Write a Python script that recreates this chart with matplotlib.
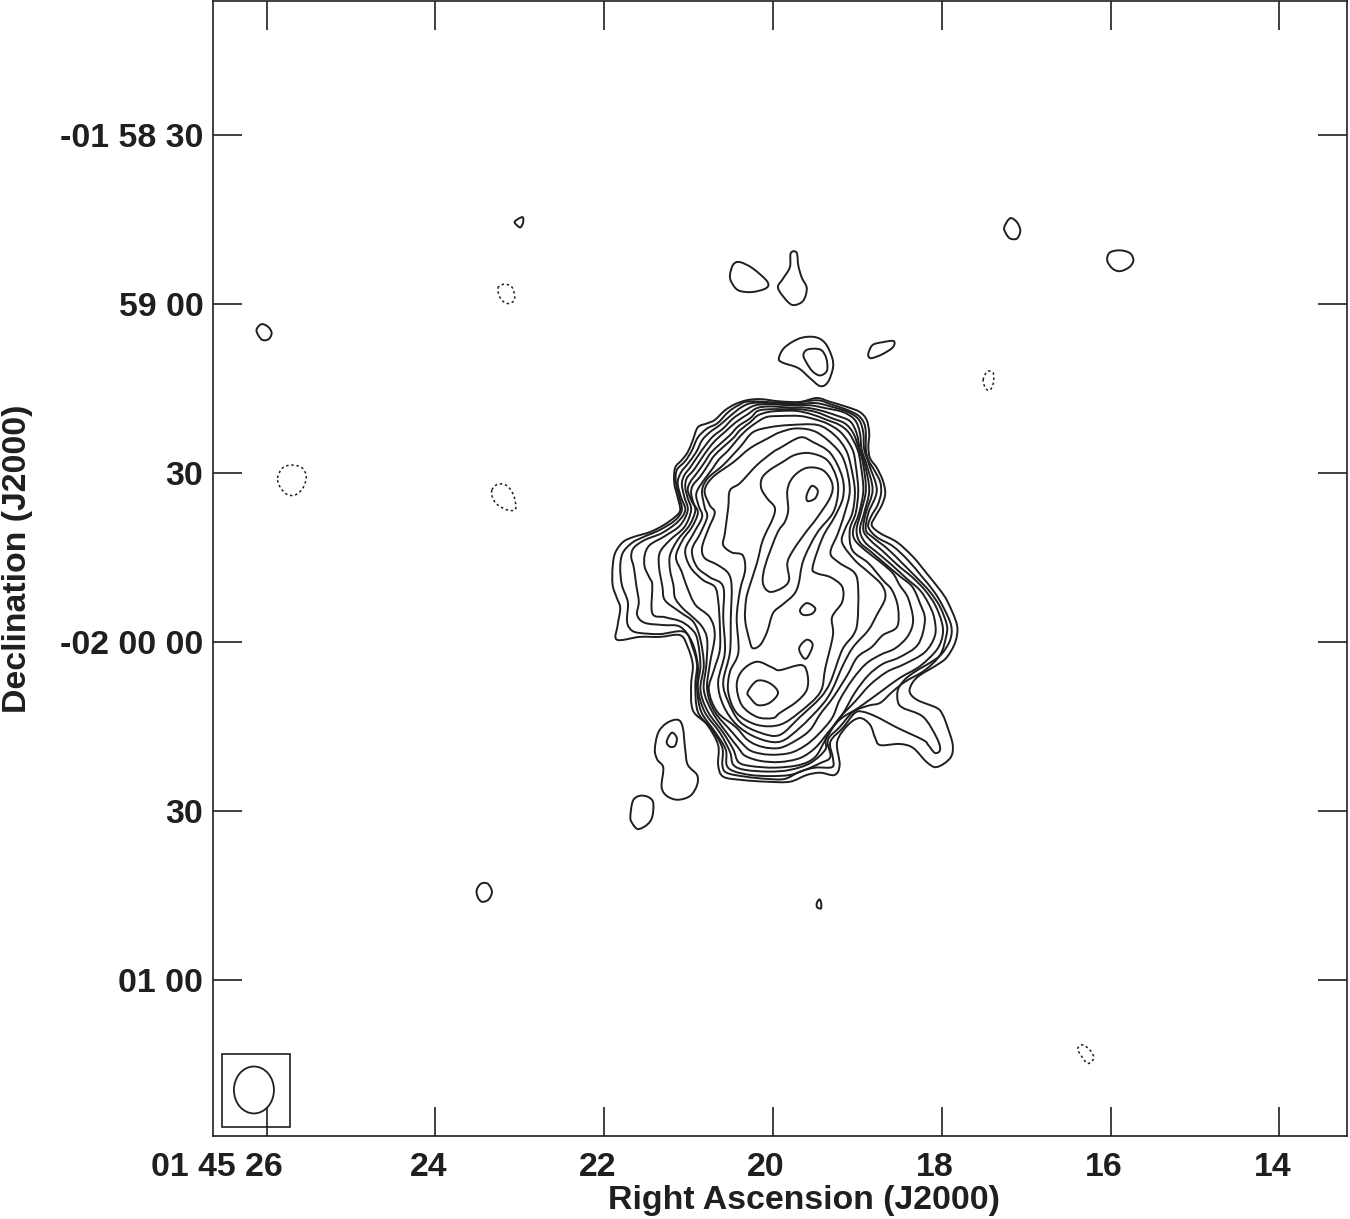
import matplotlib
matplotlib.use('Agg')
import matplotlib.pyplot as plt
import matplotlib.transforms as mtrans
import numpy as np
from matplotlib.patches import Ellipse, PathPatch, Rectangle
from matplotlib.path import Path

# contour vertices: (RA seconds after 01 45, Dec arcsec north of -02 00 00)
level_01 = [(21.85,0.4),(21.84,3.0),(21.81,6.0),(21.85,7.8),(21.90,10.1),(21.90,13.3),(21.87,15.8),(21.78,17.7),(21.66,18.6),(21.46,19.5),(21.30,20.7),(21.16,22.2),(21.10,23.4),(21.13,25.7),(21.17,28.2),(21.16,30.9),(21.08,32.3),(21.01,33.7),(20.95,35.8),(20.89,38.1),(20.78,38.8),(20.69,39.4),(20.57,41.1),(20.45,42.2),(20.31,42.9),(20.15,43.1),(19.92,42.7),(19.68,42.6),(19.48,43.3),(19.32,42.6),(19.12,41.7),(18.97,40.8),(18.89,39.4),(18.86,37.1),(18.87,34.6),(18.85,32.6),(18.77,30.9),(18.70,28.7),(18.67,26.4),(18.71,24.3),(18.79,22.2),(18.83,20.7),(18.73,19.3),(18.53,17.7),(18.34,15.1),(18.18,12.2),(18.02,9.2),(17.93,7.1),(17.82,3.0),(17.84,0.0),(17.94,-2.7),(18.06,-4.1),(18.26,-5.9),(18.35,-7.3),(18.38,-8.9),(18.29,-10.3),(18.06,-11.7),(17.99,-12.9),(17.93,-15.2),(17.87,-18.3),(17.90,-20.6),(18.06,-22.2),(18.18,-21.3),(18.34,-18.8),(18.50,-18.1),(18.73,-18.3),(18.79,-17.0),(18.85,-14.7),(18.97,-13.5),(19.11,-14.7),(19.24,-17.7),(19.21,-21.8),(19.27,-23.6),(19.44,-23.2),(19.60,-23.6),(19.80,-24.8),(20.07,-24.8),(20.36,-24.5),(20.59,-23.9),(20.65,-21.8),(20.65,-18.3),(20.78,-14.7),(20.95,-12.1),(20.97,-7.6),(20.95,-4.1),(21.01,-0.9),(21.10,1.2),(21.34,0.9),(21.58,0.9)]
level_02 = [(21.67,2.0),(21.72,3.0),(21.73,4.3),(21.72,7.1),(21.79,10.1),(21.81,13.3),(21.78,15.8),(21.67,17.6),(21.54,18.6),(21.34,19.9),(21.16,21.6),(21.08,23.4),(21.11,25.7),(21.15,28.2),(21.14,30.5),(21.04,32.1),(20.96,34.0),(20.89,36.3),(20.78,37.9),(20.66,38.8),(20.53,40.8),(20.41,42.0),(20.27,42.7),(19.80,42.4),(19.48,42.9),(19.32,42.2),(19.14,41.3),(18.99,40.2),(18.92,38.8),(18.90,37.1),(18.90,34.2),(18.87,32.3),(18.80,30.5),(18.73,28.4),(18.72,26.4),(18.76,24.3),(18.84,22.2),(18.87,20.4),(18.77,18.6),(18.58,17.0),(18.40,14.5),(18.23,11.5),(18.09,8.9),(17.99,6.4),(17.89,3.0),(17.90,0.4),(18.00,-2.1),(18.12,-3.5),(18.32,-5.3),(18.44,-6.7),(18.52,-8.5),(18.52,-10.6),(18.46,-11.7),(18.22,-13.3),(18.06,-17.0),(18.02,-19.1),(18.08,-19.7),(18.16,-18.3),(18.22,-17.4),(18.53,-15.2),(18.77,-13.3),(18.93,-12.4),(19.03,-12.6),(19.17,-15.2),(19.32,-17.7),(19.29,-20.6),(19.30,-22.2),(19.50,-22.3),(19.68,-23.0),(19.86,-24.3),(20.07,-24.3),(20.33,-23.9),(20.55,-23.2),(20.60,-21.8),(20.60,-18.8),(20.72,-15.6),(20.89,-12.4),(20.92,-7.6),(20.90,-4.1),(20.95,-1.1),(21.05,1.8),(21.34,1.4),(21.58,1.6)]
level_03 = [(21.65,13.3),(21.62,10.1),(21.59,7.1),(21.61,4.8),(21.52,3.4),(21.30,3.0),(21.10,2.7),(20.96,0.0),(20.89,-4.1),(20.90,-8.2),(20.85,-12.4),(20.68,-16.1),(20.56,-19.1),(20.55,-21.8),(20.47,-22.9),(20.27,-23.6),(20.04,-23.8),(19.80,-23.6),(19.62,-22.7),(19.44,-21.5),(19.32,-20.4),(19.35,-17.4),(19.21,-15.1),(19.05,-12.4),(18.87,-11.3),(18.73,-10.8),(18.59,-8.9),(18.44,-7.1),(18.20,-5.0),(18.02,-2.3),(17.95,0.9),(17.94,3.0),(18.02,6.2),(18.14,8.9),(18.29,11.3),(18.47,14.0),(18.64,16.5),(18.82,18.6),(18.90,19.9),(18.87,22.9),(18.77,26.9),(18.86,31.4),(18.92,34.2),(18.93,37.1),(18.98,39.4),(19.11,40.8),(19.32,41.8),(19.50,42.4),(19.74,42.2),(20.04,42.4),(20.25,42.4),(20.37,41.7),(20.50,40.2),(20.63,38.5),(20.75,37.2),(20.84,35.8),(20.91,33.7),(21.01,31.6),(21.09,30.1),(21.13,28.2),(21.09,25.7),(21.04,23.4),(21.13,21.3),(21.32,19.3),(21.52,18.1),(21.65,16.7),(21.68,15.1)]
level_04 = [(21.52,13.3),(21.46,11.3),(21.43,10.1),(21.43,5.1),(21.28,4.4),(21.10,3.7),(20.98,2.5),(20.90,0.7),(20.86,-4.1),(20.89,-8.2),(20.81,-12.4),(20.63,-16.1),(20.51,-19.5),(20.47,-21.8),(20.33,-22.7),(20.04,-23.0),(19.80,-22.7),(19.56,-21.5),(19.38,-19.1),(19.37,-17.0),(19.21,-13.8),(18.99,-11.7),(18.73,-8.9),(18.50,-6.4),(18.26,-4.3),(18.06,-1.4),(17.99,1.2),(18.00,3.5),(18.08,6.6),(18.20,9.2),(18.35,11.5),(18.52,13.6),(18.69,16.0),(18.85,18.1),(18.93,19.9),(18.90,22.9),(18.82,27.0),(18.89,31.4),(18.95,34.2),(18.97,37.1),(19.03,39.4),(19.17,40.8),(19.38,41.5),(19.56,42.0),(19.80,42.0),(20.04,42.2),(20.21,42.0),(20.33,41.1),(20.47,39.7),(20.59,37.9),(20.71,36.5),(20.80,34.9),(20.89,33.0),(20.98,31.0),(21.05,29.6),(21.08,28.0),(21.05,25.7),(21.01,23.4),(21.10,20.7),(21.28,18.8),(21.46,17.2),(21.52,15.4)]
level_05 = [(21.35,13.3),(21.31,9.8),(21.28,7.4),(21.10,5.3),(20.94,3.5),(20.86,0.4),(20.82,-4.1),(20.86,-8.5),(20.77,-12.4),(20.59,-16.1),(20.47,-19.1),(20.41,-21.3),(20.27,-22.0),(19.98,-22.3),(19.68,-21.8),(19.50,-20.4),(19.38,-17.4),(19.23,-13.8),(19.03,-10.6),(18.85,-7.6),(18.65,-5.3),(18.44,-3.9),(18.20,-1.8),(18.08,1.2),(18.09,4.3),(18.16,6.9),(18.26,9.2),(18.42,11.3),(18.58,13.5),(18.76,15.8),(18.91,17.7),(18.97,19.9),(18.92,22.9),(18.86,26.9),(18.91,31.4),(18.97,34.2),(19.01,37.1),(19.09,39.2),(19.25,40.2),(19.44,41.1),(19.62,41.6),(19.80,41.6),(20.04,41.8),(20.19,41.5),(20.30,40.4),(20.44,39.0),(20.56,37.4),(20.68,35.8),(20.77,34.2),(20.85,32.5),(20.94,30.5),(21.02,29.1),(21.04,27.5),(21.01,25.5),(20.97,23.4),(21.05,20.4),(21.22,18.1),(21.34,15.9)]
level_06 = [(21.22,12.8),(21.18,10.1),(21.16,7.8),(21.07,6.0),(20.95,4.4),(20.84,2.7),(20.78,0.4),(20.79,-4.1),(20.82,-8.5),(20.72,-12.4),(20.55,-16.1),(20.41,-18.8),(20.33,-20.2),(20.15,-21.1),(19.92,-21.3),(19.68,-20.6),(19.50,-18.8),(19.35,-16.1),(19.18,-12.9),(19.03,-9.0),(18.87,-5.9),(18.70,-3.9),(18.50,-2.7),(18.28,-0.4),(18.20,3.9),(18.26,6.9),(18.35,9.8),(18.50,11.7),(18.65,13.6),(18.83,15.9),(18.97,17.7),(19.01,19.9),(18.96,22.9),(18.90,26.9),(18.93,31.4),(18.98,34.2),(19.05,37.1),(19.15,38.8),(19.30,39.7),(19.49,40.8),(19.68,41.3),(19.86,41.3),(20.04,41.3),(20.18,41.0),(20.27,39.7),(20.41,38.3),(20.51,36.7),(20.63,35.1),(20.74,33.5),(20.81,31.9),(20.90,30.0),(20.98,28.4),(21.01,27.0),(20.97,25.2),(20.92,23.4),(20.99,20.7),(21.13,18.1),(21.22,15.4)]
level_07 = [(21.15,15.1),(21.08,12.4),(21.02,9.8),(20.92,6.6),(20.75,4.4),(20.69,1.2),(20.75,-4.1),(20.78,-8.5),(20.69,-12.4),(20.49,-15.9),(20.36,-18.1),(20.25,-19.4),(20.04,-20.0),(19.80,-19.7),(19.62,-18.4),(19.47,-16.5),(19.30,-13.5),(19.21,-10.3),(19.06,-6.7),(18.90,-3.9),(18.73,-2.3),(18.55,-1.1),(18.40,1.1),(18.34,3.9),(18.40,7.8),(18.50,10.1),(18.58,12.2),(18.73,14.2),(18.91,16.3),(19.03,18.1),(19.05,19.9),(18.98,22.9),(18.93,26.9),(18.96,31.4),(19.00,34.2),(19.10,37.1),(19.21,38.5),(19.36,39.4),(19.54,40.4),(19.72,41.0),(19.92,41.0),(20.06,40.8),(20.18,40.2),(20.27,39.0),(20.39,37.6),(20.47,36.2),(20.59,34.6),(20.70,33.0),(20.77,31.4),(20.86,29.4),(20.95,27.8),(20.97,26.4),(20.94,24.6),(20.89,22.9),(20.96,20.4),(21.07,18.1)]
level_08 = [(21.04,16.3),(20.98,13.3),(20.83,11.0),(20.69,9.8),(20.65,7.4),(20.63,3.0),(20.63,-1.4),(20.70,-5.0),(20.76,-8.5),(20.66,-12.4),(20.44,-15.1),(20.30,-17.4),(20.13,-18.6),(19.92,-18.8),(19.72,-17.4),(19.56,-15.6),(19.44,-12.8),(19.29,-9.9),(19.12,-5.9),(19.00,-2.7),(18.83,-0.9),(18.70,1.2),(18.53,2.7),(18.52,6.2),(18.59,9.2),(18.70,11.0),(18.87,14.0),(19.06,16.3),(19.09,19.9),(19.02,22.9),(18.99,26.9),(19.02,31.4),(19.06,34.2),(19.19,37.1),(19.35,38.7),(19.50,39.5),(19.68,40.1),(19.92,40.1),(20.08,39.9),(20.21,38.8),(20.33,37.4),(20.43,35.8),(20.53,34.0),(20.64,32.4),(20.71,30.9),(20.81,28.9),(20.89,27.1),(20.91,25.9),(20.88,24.1),(20.84,22.2),(20.94,19.3)]
level_09 = [(19.80,38.5),(20.04,38.1),(20.24,37.2),(20.39,34.6),(20.59,31.4),(20.77,29.1),(20.84,26.9),(20.81,23.9),(20.78,22.2),(20.86,19.3),(20.96,16.3),(20.90,13.3),(20.75,11.5),(20.59,9.8),(20.59,4.3),(20.57,-1.8),(20.65,-7.1),(20.59,-11.2),(20.43,-14.7),(20.19,-17.0),(19.92,-17.7),(19.68,-15.2),(19.42,-11.2),(19.30,-8.5),(19.17,-4.1),(19.05,-0.9),(18.87,2.1),(18.77,4.8),(18.67,7.8),(18.71,10.1),(18.87,12.4),(19.03,14.5),(19.18,17.6),(19.15,19.9),(19.06,22.9),(19.03,26.9),(19.08,31.4),(19.14,34.2),(19.27,36.7),(19.47,38.5)]
level_10 = [(19.72,37.9),(19.92,37.2),(20.04,36.3),(20.27,34.4),(20.47,31.9),(20.71,29.3),(20.81,26.9),(20.75,24.3),(20.69,22.9),(20.77,19.9),(20.84,16.8),(20.81,14.9),(20.66,13.7),(20.53,12.2),(20.49,9.8),(20.50,4.3),(20.51,-1.8),(20.59,-7.1),(20.53,-10.6),(20.39,-14.2),(20.15,-16.1),(19.92,-16.5),(19.68,-13.3),(19.44,-9.9),(19.32,-7.1),(19.18,-1.4),(19.05,1.2),(19.00,3.5),(18.99,9.2),(19.03,12.2),(19.21,14.0),(19.32,15.8),(19.23,19.3),(19.15,22.9),(19.09,26.9),(19.14,31.4),(19.24,34.2),(19.48,37.2)]
level_11 = [(19.92,34.4),(19.68,36.3),(19.53,35.5),(19.32,33.5),(19.18,29.3),(19.17,25.7),(19.27,22.2),(19.41,18.6),(19.53,13.3),(19.48,12.2),(19.32,11.5),(19.18,9.8),(19.18,7.1),(19.30,4.4),(19.29,1.2),(19.38,-4.6),(19.44,-8.9),(19.68,-12.4),(19.92,-14.7),(20.19,-14.7),(20.43,-12.6),(20.53,-8.9),(20.51,-5.3),(20.41,-1.8),(20.43,4.3),(20.39,9.2),(20.33,12.8),(20.36,15.4),(20.49,15.9),(20.59,17.2),(20.57,19.3),(20.53,23.9),(20.51,26.9),(20.39,28.2),(20.19,31.4),(20.00,33.7)]
ridge_outer = [(19.74,33.2),(19.89,31.9),(20.04,30.5),(20.13,29.1),(20.14,27.3),(20.07,25.5),(19.98,23.9),(20.00,22.0),(20.12,18.1),(20.19,14.0),(20.28,9.8),(20.32,7.4),(20.33,3.9),(20.28,0.4),(20.24,-1.1),(20.15,-0.5),(20.07,1.8),(20.00,5.1),(19.89,6.6),(19.76,8.3),(19.70,10.1),(19.64,14.5),(19.48,19.3),(19.29,22.9),(19.23,26.4),(19.25,29.3),(19.36,32.3),(19.56,33.5)]
ridge_inner = [(19.83,26.9),(19.76,29.3),(19.60,30.9),(19.41,30.5),(19.30,28.2),(19.32,25.7),(19.48,22.0),(19.62,19.3),(19.76,16.3),(19.83,14.0),(19.81,11.0),(19.89,9.6),(20.04,8.9),(20.12,10.5),(20.09,13.7),(19.95,19.3),(19.86,21.3),(19.82,23.4)]
south_outer = [(20.19,-3.5),(20.36,-5.0),(20.43,-7.6),(20.37,-11.2),(20.19,-13.3),(20.00,-13.5),(19.92,-12.6),(19.72,-10.6),(19.60,-8.5),(19.59,-5.9),(19.66,-4.1),(19.92,-5.0),(20.00,-4.6)]
south_peak = [(20.30,-8.9),(20.19,-6.9),(20.04,-7.3),(19.94,-9.0),(20.04,-10.8),(20.18,-11.2),(20.27,-9.9)]
knot_a = [(19.68,5.7),(19.60,6.9),(19.50,6.0),(19.54,5.0),(19.64,4.8)]
knot_b = [(19.69,-1.1),(19.60,0.4),(19.53,-0.5),(19.59,-2.7),(19.64,-2.8)]
north_peak = [(19.60,26.1),(19.54,27.7),(19.47,26.9),(19.50,25.5),(19.59,25.0)]
isl_a = [(20.51,65.1),(20.47,67.0),(20.39,67.4),(20.24,66.3),(20.07,64.0),(20.08,62.8),(20.25,62.1),(20.41,62.4),(20.49,63.8)]
isl_b = [(19.79,69.0),(19.72,69.1),(19.70,66.8),(19.66,64.7),(19.60,62.8),(19.64,60.6),(19.74,59.8),(19.82,60.3),(19.94,62.8),(19.88,64.5),(19.80,66.5)]
isl_c = [(19.93,50.4),(19.86,52.3),(19.68,53.9),(19.50,54.1),(19.38,53.0),(19.30,50.5),(19.29,48.6),(19.35,46.1),(19.44,45.4),(19.56,46.8),(19.70,48.6),(19.89,49.6)]
isl_d = [(19.64,50.9),(19.59,51.9),(19.44,51.9),(19.37,50.4),(19.36,48.2),(19.44,47.3),(19.53,48.0),(19.60,49.5)]
isl_e = [(18.87,51.2),(18.82,52.7),(18.70,53.2),(18.57,53.4),(18.58,52.3),(18.70,51.1),(18.82,50.4),(18.86,50.5)]
isl_f = [(21.40,-19.1),(21.36,-16.1),(21.26,-14.4),(21.13,-13.8),(21.07,-15.1),(21.04,-19.1),(21.01,-21.8),(20.90,-23.6),(20.90,-25.4),(20.98,-27.3),(21.13,-28.0),(21.26,-27.3),(21.32,-25.7),(21.30,-22.3),(21.37,-20.9)]
isl_g = [(21.26,-17.7),(21.20,-16.1),(21.14,-17.0),(21.16,-18.4),(21.22,-18.6)]
isl_h = [(21.69,-31.0),(21.66,-28.2),(21.58,-27.3),(21.48,-27.5),(21.42,-28.5),(21.43,-31.0),(21.49,-32.4),(21.60,-33.2),(21.67,-32.1)]
isl_i = [(23.06,74.6),(22.97,75.4),(22.96,74.5),(22.99,73.6),(23.03,73.9)]
isl_k = [(17.26,73.6),(17.19,75.2),(17.11,74.5),(17.07,73.0),(17.11,71.6),(17.19,71.6),(17.24,72.5)]
isl_l = [(16.04,67.7),(16.01,69.1),(15.89,69.5),(15.77,69.0),(15.73,67.7),(15.78,66.5),(15.89,65.8),(15.98,66.3)]
isl_n = [(26.12,55.3),(26.06,56.4),(25.98,55.9),(25.94,54.8),(25.98,53.7),(26.06,53.7)]
isl_q = [(23.51,-44.0),(23.46,-42.9),(23.38,-42.9),(23.33,-44.3),(23.37,-45.7),(23.45,-46.1),(23.50,-45.2)]
isl_r = [(19.48,-46.3),(19.45,-45.7),(19.43,-46.3),(19.43,-47.2),(19.45,-47.3),(19.48,-47.0)]
# negative contours
neg_a = [(23.26,62.8),(23.18,63.5),(23.09,62.9),(23.06,61.0),(23.09,60.3),(23.16,60.1),(23.23,61.0)]
neg_b = [(17.51,46.5),(17.46,48.0),(17.39,47.7),(17.39,45.9),(17.43,44.7),(17.48,45.0)]
neg_c = [(25.87,29.1),(25.81,30.9),(25.70,31.4),(25.58,30.9),(25.53,29.3),(25.57,27.3),(25.66,26.1),(25.76,26.2),(25.84,27.5)]
neg_d = [(23.33,27.0),(23.26,28.0),(23.15,27.7),(23.07,25.9),(23.05,23.6),(23.14,23.4),(23.26,24.3),(23.32,25.5)]
neg_e = [(16.39,-72.2),(16.33,-71.5),(16.24,-72.5),(16.20,-73.9),(16.27,-74.8),(16.34,-73.6)]

ra_ticks = [26, 24, 22, 20, 18, 16, 14]
ra_labels = ['01 45 26', '24', '22', '20', '18', '16', '14']
dec_ticks = [90, 60, 30, 0, -30, -60]
dec_labels = ['-01 58 30', '59 00', '30', '-02 00 00', '30', '01 00']

solid = [level_01, level_02, level_03, level_04, level_05, level_06, level_07, level_08,
         level_09, level_10, level_11, ridge_outer, ridge_inner, south_outer, south_peak,
         knot_a, knot_b, north_peak, isl_a, isl_b, isl_c, isl_d, isl_e, isl_f, isl_g, isl_h,
         isl_i, isl_k, isl_l, isl_n, isl_q, isl_r]
dashed = [neg_a, neg_b, neg_c, neg_d, neg_e]

INK = '#1f1f1f'
plt.rcParams['font.family'] = ['Liberation Sans', 'DejaVu Sans']
plt.rcParams['font.weight'] = 'bold'


def loop_path(points):
    # closed smooth curve through the traced vertices
    p = np.array(points)
    n = len(p)
    verts = [p[0]]
    codes = [Path.MOVETO]
    for i in range(n):
        p0, p1, p2, p3 = p[i - 1], p[i], p[(i + 1) % n], p[(i + 2) % n]
        verts += [p1 + (p2 - p0) / 6, p2 - (p3 - p1) / 6, p2]
        codes += [Path.CURVE4] * 3
    return Path(verts, codes)


fig = plt.figure(figsize=(13.5, 12.19), dpi=100)
ax = fig.add_axes([213 / 1350, 1 - 1136 / 1219, 1134 / 1350, 1135 / 1219])
ax.set_xlim(26.635, 13.199)
ax.set_ylim(-87.67, 113.75)

for c in solid:
    ax.add_patch(PathPatch(loop_path(c), fill=False, ec=INK, lw=1.4))
for c in dashed:
    ax.add_patch(PathPatch(loop_path(c), fill=False, ec=INK, lw=1.1, ls=(0, (1.6, 1.8))))

# beam
ax.add_patch(Rectangle((26.53, -86.0), -0.81, 12.95, fill=False, ec=INK, lw=1.2))
ax.add_patch(Ellipse((26.15, -79.5), 0.474, 8.33, fill=False, ec=INK, lw=1.3))

ax.set_xticks(ra_ticks, ra_labels)
ax.set_yticks(dec_ticks, dec_labels)
ax.tick_params(axis='both', direction='in', length=20.9, width=1.2, color=INK,
               top=True, right=True, labelsize=24.4, labelcolor=INK)
ax.tick_params(axis='x', pad=11.7)
ax.tick_params(axis='y', pad=7)
for s in ax.spines.values():
    s.set_linewidth(1.2)
    s.set_color(INK)

# RA labels sit a little left of their ticks, first one ends past its tick
shift = mtrans.ScaledTranslation(-7 / 100, 0, fig.dpi_scale_trans)
for lab in ax.get_xticklabels():
    lab.set_transform(lab.get_transform() + shift)
first = ax.get_xticklabels()[0]
first.set_ha('right')
first.set_transform(first.get_transform() + mtrans.ScaledTranslation(23 / 100, 0, fig.dpi_scale_trans))

ax.set_xlabel('Right Ascension (J2000)', fontsize=24.4, fontweight='bold', color=INK)
ax.set_ylabel('Declination (J2000)', fontsize=24.4, fontweight='bold', color=INK)
ax.xaxis.set_label_coords(0.521, -0.057)
ax.yaxis.set_label_coords(-0.172, 0.509)
ax.xaxis.label.set_va('center')
ax.yaxis.label.set_va('center')

fig.savefig('out.png', dpi=100)
